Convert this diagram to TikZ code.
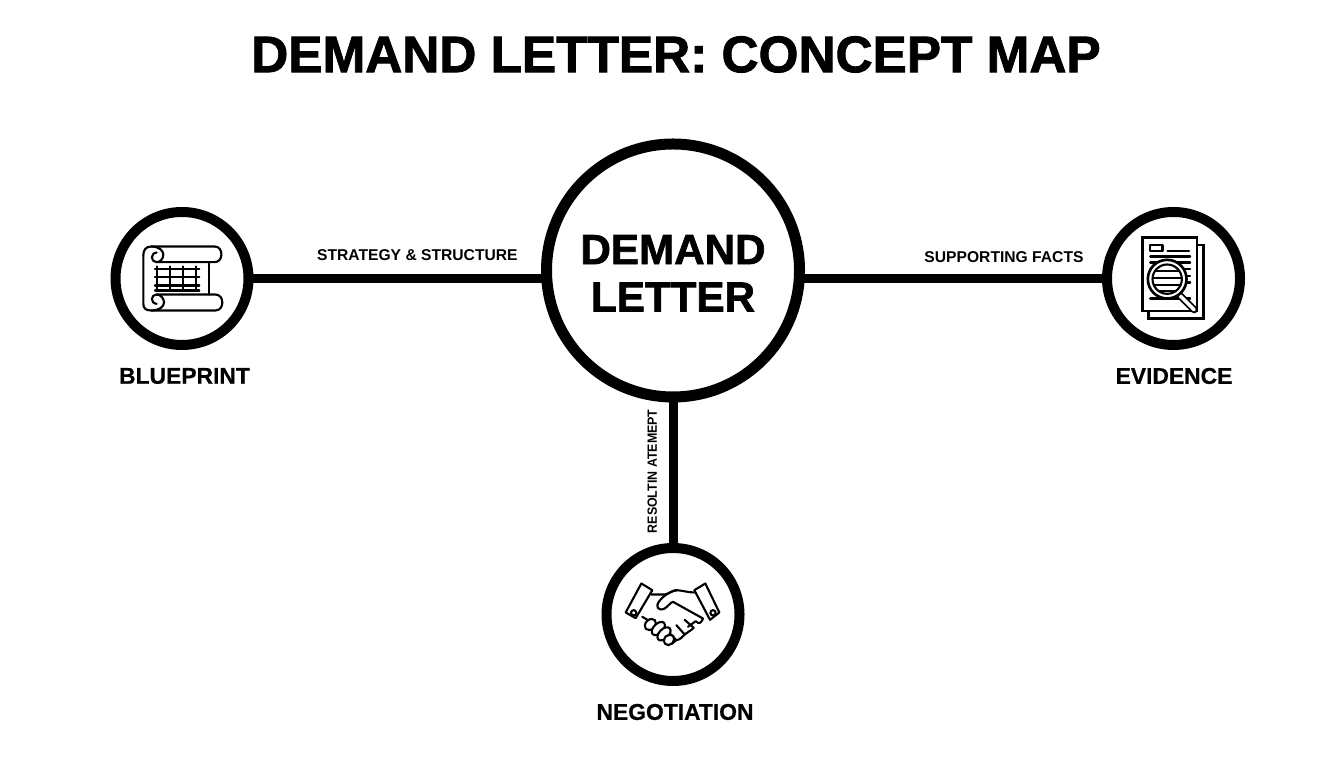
\documentclass[tikz,border=0pt]{standalone}
\usepackage{fontspec}
\setmainfont{Liberation Sans}
\newfontfamily\heavyfont{Liberation Sans}[BoldFeatures={FakeBold=1.6}]
\newfontfamily\namefont{Liberation Sans}[BoldFeatures={FakeBold=0.6}]
\usepackage{tikz}
\usetikzlibrary{calc}

\begin{document}
\begin{tikzpicture}[>=latex,
  hub/.style={circle, draw=black, fill=white, line width=0.22cm, minimum size=5.06cm, inner sep=0pt, align=center, font=\heavyfont\fontsize{24}{27}\selectfont\bfseries},
  spoke/.style={circle, draw=black, fill=white, line width=0.2cm, minimum size=2.66cm, inner sep=0pt},
  link/.style={line width=0.18cm, shorten <=-2pt, shorten >=-2pt},
  linktext/.style={font=\fontsize{8.9}{11}\selectfont\bfseries, inner sep=0pt},
  spokename/.style={font=\namefont\fontsize{13}{15}\selectfont\bfseries, inner sep=0pt},
  icon/.style={line width=1.2pt, line join=round, line cap=round}]

\useasboundingbox (0,0) rectangle (26.88,15.36);
\fill [white] (0,0) rectangle (26.88,15.36);

\node [font=\heavyfont\fontsize{29.2}{32}\selectfont\bfseries, inner sep=0pt] at (13.52, 14.27) (Title) {DEMAND LETTER: CONCEPT MAP};

\node [hub] at (13.46, 9.95) (Demand) {\rule{0pt}{19.7pt}DEMAND\\LETTER};
\node [spoke] at (3.64, 9.79) (Blueprint) {};
\node [spoke] at (23.47, 9.79) (Evidence) {};
\node [spoke] at (13.46, 3.07) (Negotiation) {};

\draw [link] (Blueprint.east) to node [linktext, pos=0.57, above=0.27cm] (Strategy) {STRATEGY \& STRUCTURE} (Demand.west |- Blueprint.east);
\draw [link] (Evidence.west) to node [linktext, pos=0.33, above=0.23cm] (Facts) {SUPPORTING FACTS} (Demand.east |- Evidence.west);
\draw [link] (Demand.south) to node [linktext, pos=0.49, left=0.23cm, rotate=90, xscale=0.93, anchor=south, font=\fontsize{7.6}{10}\selectfont\bfseries] (Attempt) {RESOLTIN ATEMEPT} (Negotiation.north);

\node [spokename] at (3.69, 7.84) (BlueprintText) {BLUEPRINT};
\node [spokename] at (23.48, 7.84) (EvidenceText) {EVIDENCE};
\node [spokename] at (13.5, 1.12) (NegotiationText) {NEGOTIATION};

% blueprint scroll
\begin{scope}[shift={(Blueprint.center)}, x=0.00667cm, y=-0.00667cm]
\draw [icon] (-116,-70) .. controls (-116,-86) and (-108,-96) .. (-92,-96) -- (98,-96) .. controls (125,-96) and (125,-49) .. (98,-49) -- (-76,-49);
\draw [icon] (-92,-96) .. controls (-70,-96) and (-56,-84) .. (-56,-72) .. controls (-56,-58) and (-66,-49) .. (-76,-49) .. controls (-94,-49) and (-96,-76) .. (-76,-78);
\draw [icon] (-116,-70) -- (-116,76) .. controls (-116,90) and (-108,96) .. (-92,96) -- (100,96) .. controls (128,96) and (128,48) .. (100,48) -- (-76,48);
\draw [icon] (-92,96) .. controls (-70,96) and (-54,86) .. (-54,72) .. controls (-54,58) and (-66,48) .. (-76,48) .. controls (-94,48) and (-96,74) .. (-76,76);
\draw [icon] (81,-49) -- (81,48);
\foreach \y in {-29,-4,21,36}
  \draw [icon] (-81,\y) -- (52,\y);
\foreach \x in {-74,-36,2,42}
  \draw [icon] (\x,-36) -- (\x,38);
\end{scope}

% evidence papers
\begin{scope}[shift={(Evidence.center)}, x=0.00667cm, y=-0.00667cm]
\draw [icon, line join=miter] (70,-100) -- (90,-100) -- (90,120) -- (-75,120) -- (-75,97);
\draw [icon, fill=white, line join=miter] (-93,-123) rectangle (70,97);
\draw [icon] (-70,-101) rectangle (-33,-83);
\draw [icon] (-18,-83) -- (47,-83);
\foreach \y in {-66,-48,-28,-8,12,60}
  \draw [icon] (-70,\y) -- (50,\y);
\draw [line width=4pt, line cap=round] (20,52) -- (62,94);
\draw [line width=2pt, white, line cap=round] (20,52) -- (62,94);
\draw [line width=1.5pt, fill=white] (-19,2) circle (58);
\draw [icon, fill=white] (-19,2) circle (44);
\begin{scope}
\clip (-19,2) circle (44);
\foreach \y in {-22,-2,20,38}
  \draw [icon] (-70,\y) -- (30,\y);
\end{scope}
\end{scope}

% negotiation handshake
\begin{scope}[shift={(Negotiation.center)}, x=0.00667cm, y=-0.00667cm]
\draw [icon] (-95,-93) -- (-62,-73) -- (-112,11) -- (-142,-6) -- cycle;
\draw [icon] (-118,-5) circle (8);
\draw [icon] (97,-93) -- (64,-73) -- (111,16) -- (139,-6) -- cycle;
\draw [icon] (120,-5) circle (8);
\draw [icon] (-65,-60) -- (-25,-60) .. controls (-10,-62) and (0,-74) .. (10,-73) .. controls (30,-72) and (45,-66) .. (64,-66);
\draw [icon] (10,-72) .. controls (-15,-70) and (-45,-42) .. (-47,-28) .. controls (-48,-15) and (-35,-12) .. (-25,-18) .. controls (-15,-24) and (-8,-36) .. (0,-38) -- (90,12);
\draw [icon] (90,12) .. controls (85,26) and (78,30) .. (68,20) -- (45,37);
\draw [icon] (62,40) .. controls (52,50) and (44,52) .. (35,60) .. controls (28,68) and (20,76) .. (10,77) -- (-4,88);
\draw [icon] (62,40) -- (35,16);
\draw [icon] (35,60) -- (10,32);
\draw [icon] (10,77) -- (-12,54);
\draw [icon] (-92,7) -- (-75,17);
\foreach \x/\y/\r in {-68/30/19,-44/42/24,-27/58/24,-12/76/17}
  \draw [icon, fill=white, rotate around={45:(\x,\y)}] (\x,\y) ellipse (\r cm*0.00667 and 0.095cm);
\end{scope}

\end{tikzpicture}
\end{document}
